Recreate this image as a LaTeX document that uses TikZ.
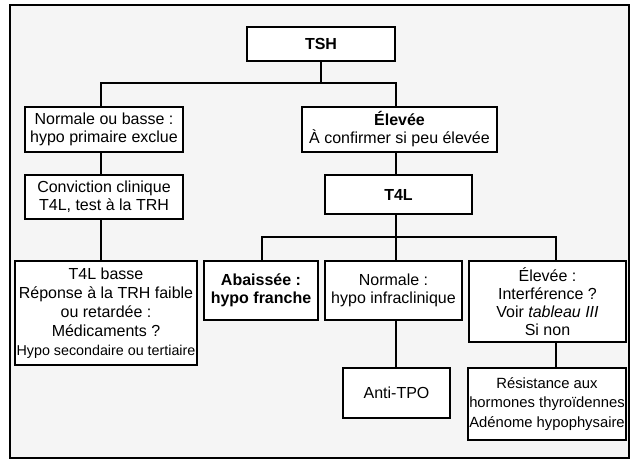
\documentclass[tikz,border=0pt]{standalone}
\usepackage{fontspec}
\setmainfont{Liberation Sans}
\begin{document}
\begin{tikzpicture}[x=1pt,y=-1pt,
  box/.style={draw=black,line width=1.6pt,fill=white,align=center,inner sep=0pt,
    font=\fontsize{16}{18}\selectfont},
  smallbox/.style={box,font=\fontsize{14.8}{19.5}\selectfont},
  link/.style={draw=black,line width=1.5pt}]
\useasboundingbox (0,0) rectangle (632,461);
\fill[white] (0,0) rectangle (632,461);
\draw[line width=1.8pt,fill=black!4] (10,5) rectangle (629,458);

\node[box,minimum width=148pt,minimum height=34pt] (tsh) at (321,44) {\textbf{TSH}};
\node[box,minimum width=158pt,minimum height=45pt] (norm) at (104,129.5) {Normale ou basse :\\hypo primaire exclue};
\node[box,minimum width=195pt,minimum height=45pt] (elev) at (399.5,129.5) {\textbf{Élevée}\\À confirmer si peu élevée};
\node[box,minimum width=158pt,minimum height=44pt] (conv) at (104,197) {Conviction clinique\\T4L, test à la TRH};
\node[box,minimum width=182pt,minimum height=104pt,font=\fontsize{16}{18.9}\selectfont] (basse) at (106,313) {T4L basse\\Réponse à la TRH faible\\ou retardée :\\Médicaments ?\\{\fontsize{14.3}{18.9}\selectfont Hypo secondaire ou tertiaire}};
\node[box,minimum width=147pt,minimum height=39pt] (t4l) at (398.5,194.5) {\textbf{T4L}};
\node[box,minimum width=114pt,minimum height=59pt] (abai) at (261,290.5) {\textbf{Abaissée :}\\\textbf{hypo franche}};
\node[box,minimum width=137pt,minimum height=59pt] (normb) at (393.5,290.5) {Normale :\\hypo infraclinique};
\node[box,minimum width=157pt,minimum height=81pt] (elevb) at (547.5,301.5) {Élevée :\\Interférence ?\\Voir \textit{tableau III}\\Si non};
\node[box,minimum width=107pt,minimum height=50pt] (anti) at (396.5,393) {Anti-TPO};
\node[smallbox,minimum width=158pt,minimum height=72pt] (resi) at (547,404) {Résistance aux\\hormones thyroïdennes\\Adénome hypophysaire};

\coordinate (bL) at (101,83);
\coordinate (bR) at (396,83);
\coordinate (cL) at (262,237);
\coordinate (cM) at (396,237);
\coordinate (cR) at (556,237);

\draw[link] (tsh.south) -- (tsh.south |- bL);
\draw[link] (bL |- norm.north) -- (bL) -- (bR) -- (bR |- elev.north);
\draw[link] (bL |- norm.south) -- (bL |- conv.north);
\draw[link] (bL |- conv.south) -- (bL |- basse.north);
\draw[link] (bR |- elev.south) -- (bR |- t4l.north);
\draw[link] (cM |- t4l.south) -- (cM |- normb.north);
\draw[link] (cL |- abai.north) -- (cL) -- (cR) -- (cR |- elevb.north);
\draw[link] (cM |- normb.south) -- (cM |- anti.north);
\draw[link] (cR |- elevb.south) -- (cR |- resi.north);
\end{tikzpicture}
\end{document}
